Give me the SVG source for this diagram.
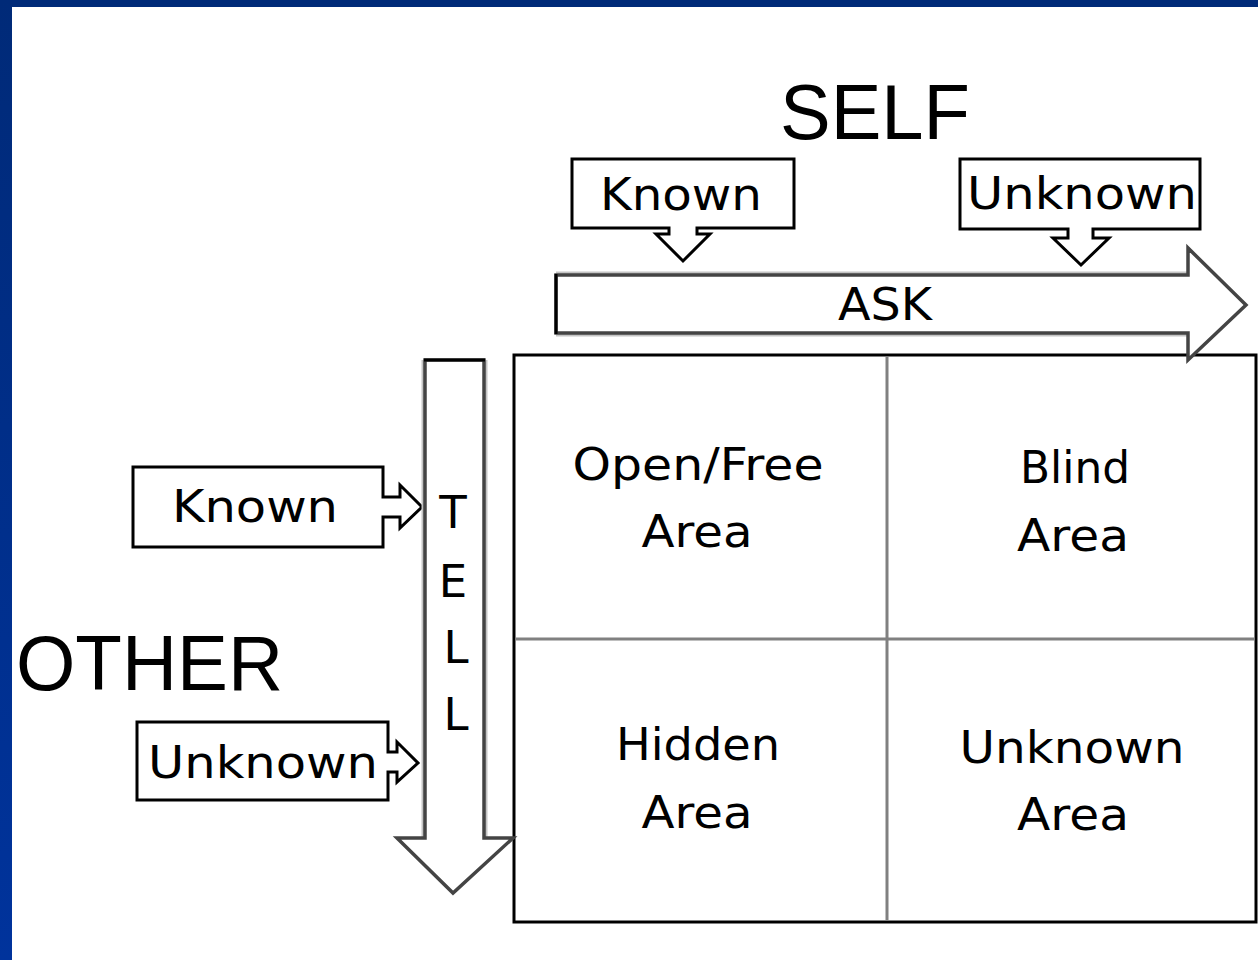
<svg xmlns="http://www.w3.org/2000/svg" width="1258" height="960" viewBox="0 0 1258 960">
  <defs>
    <linearGradient id="sideBlue" x1="0" y1="0" x2="0" y2="1">
      <stop offset="0" stop-color="#002a78"/>
      <stop offset="1" stop-color="#00339c"/>
    </linearGradient>
    <style>
      .lbl { font-family: "DejaVu Sans", Verdana, sans-serif; font-size: 45px; fill: #000; text-anchor: middle; }
      .big { font-family: "Liberation Sans", Arial, sans-serif; font-size: 77px; fill: #000; }
      .callout { fill: #fff; stroke: #000; stroke-width: 3; stroke-linejoin: miter; }
      .halo { fill: none; stroke: #c4c4c4; stroke-width: 7; stroke-linejoin: miter; }
      .arrow { fill: #fff; stroke: #444; stroke-width: 3.5; stroke-linejoin: miter; }
      .grid-outer { fill: #fff; stroke: #000; stroke-width: 3; }
      .grid-inner { stroke: #808080; stroke-width: 3; }
    </style>
  </defs>

  <!-- background and frame -->
  <rect x="0" y="0" width="1258" height="960" fill="#fff"/>
  <rect x="0" y="0" width="1258" height="7" fill="#002a78"/>
  <rect x="0" y="0" width="12" height="960" fill="url(#sideBlue)"/>

  <!-- titles -->
  <text id="title-self" class="big" x="780" y="139" textLength="190" lengthAdjust="spacingAndGlyphs">SELF</text>
  <text id="title-other" class="big" x="16" y="690" textLength="267" lengthAdjust="spacingAndGlyphs">OTHER</text>

  <!-- window grid -->
  <g id="window">
    <rect class="grid-outer" x="514" y="355" width="742" height="567"/>
    <line class="grid-inner" x1="887" y1="356" x2="887" y2="921"/>
    <line class="grid-inner" x1="515" y1="639" x2="1255" y2="639"/>
  </g>

  <g id="open-area">
    <text class="lbl" x="698" y="480" textLength="251" lengthAdjust="spacingAndGlyphs">Open/Free</text>
    <text class="lbl" x="697" y="547" textLength="111" lengthAdjust="spacingAndGlyphs">Area</text>
  </g>
  <g id="blind-area">
    <text class="lbl" x="1075" y="483" textLength="110" lengthAdjust="spacingAndGlyphs">Blind</text>
    <text class="lbl" x="1073" y="551" textLength="112" lengthAdjust="spacingAndGlyphs">Area</text>
  </g>
  <g id="hidden-area">
    <text class="lbl" x="698" y="760" textLength="164" lengthAdjust="spacingAndGlyphs">Hidden</text>
    <text class="lbl" x="697" y="828" textLength="111" lengthAdjust="spacingAndGlyphs">Area</text>
  </g>
  <g id="unknown-area">
    <text class="lbl" x="1072" y="763" textLength="225" lengthAdjust="spacingAndGlyphs">Unknown</text>
    <text class="lbl" x="1073" y="830" textLength="112" lengthAdjust="spacingAndGlyphs">Area</text>
  </g>

  <!-- callouts -->
  <g id="self-known">
    <path class="callout" d="M572,159 H794 V228 H697 V234 H710 L683,261 L656,234 H669 V228 H572 Z"/>
    <text class="lbl" x="681" y="210" textLength="162" lengthAdjust="spacingAndGlyphs">Known</text>
  </g>
  <g id="self-unknown">
    <path class="callout" d="M960,159 H1200 V229 H1093 V238 H1109 L1081,265 L1053,238 H1068 V229 H960 Z"/>
    <text class="lbl" x="1082" y="209" textLength="230" lengthAdjust="spacingAndGlyphs">Unknown</text>
  </g>
  <g id="other-known">
    <path class="callout" d="M133,467 H383 V497 H400 V485 L422,507 L400,528 V517 H383 V547 H133 Z"/>
    <text class="lbl" x="255" y="522" textLength="166" lengthAdjust="spacingAndGlyphs">Known</text>
  </g>
  <g id="other-unknown">
    <path class="callout" d="M137,722 H388 V752 H397 V742 L418,763 L397,782 V772 H388 V800 H137 Z"/>
    <text class="lbl" x="263" y="778" textLength="230" lengthAdjust="spacingAndGlyphs">Unknown</text>
  </g>

  <!-- connectors: ASK and TELL block arrows -->
  <g id="connectors">
    <g id="ask">
      <path class="halo" d="M556,275 H1188 M556,333 H1188"/>
      <path class="arrow" d="M556,275 H1188 V248 L1246,305 L1188,360 V333 H556 Z"/>
      <line x1="556" y1="274" x2="556" y2="334" stroke="#000" stroke-width="3"/>
      <text class="lbl" x="885" y="320" textLength="94" lengthAdjust="spacingAndGlyphs">ASK</text>
    </g>
    <g id="tell">
      <path class="halo" d="M425,360 V838 M484,360 V838"/>
      <path class="arrow" d="M425,360 H484 V838 H513 L453,893 L397,838 H425 Z"/>
      <line x1="424" y1="360" x2="485" y2="360" stroke="#000" stroke-width="3"/>
      <text class="lbl" x="453" y="528">T</text>
      <text class="lbl" x="453" y="597">E</text>
      <text class="lbl" x="456" y="663">L</text>
      <text class="lbl" x="456" y="730">L</text>
    </g>
  </g>
</svg>
